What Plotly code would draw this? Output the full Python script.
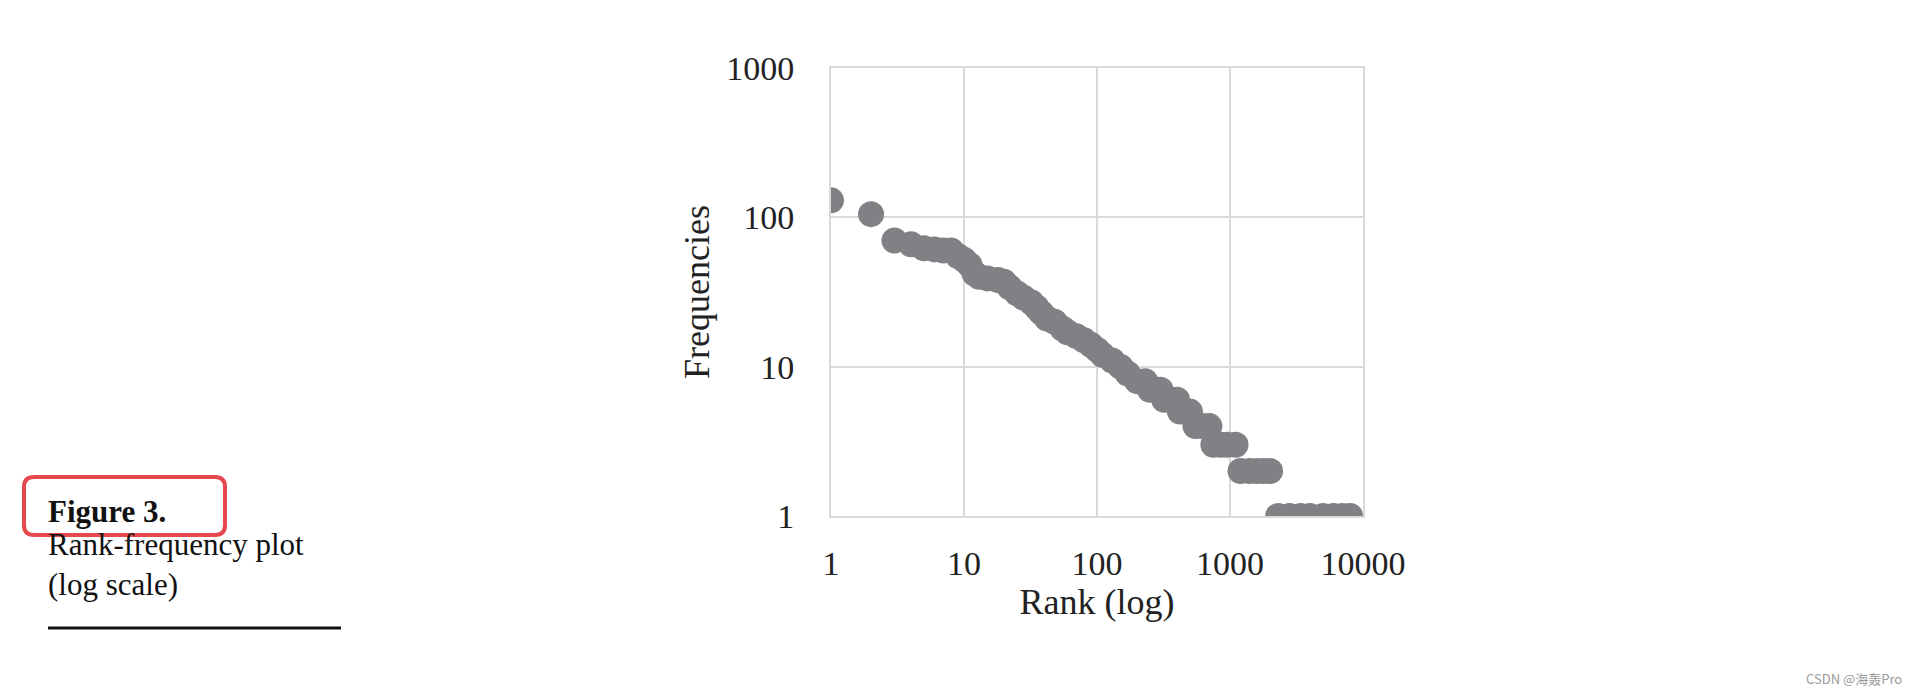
import plotly.graph_objects as go

# rank / frequency pairs
ranks = [1, 2, 3, 4, 5, 6, 7, 8, 9, 10, 11, 12, 13, 15, 18, 20, 22, 25, 28, 32,
         35, 38, 42, 48, 55, 60, 70, 80, 90, 100, 110, 130, 150, 170, 200, 230,
         250, 280, 300, 320, 360, 400, 420, 460, 500, 550, 620, 700, 750, 850, 950, 1100,
         1200, 1400, 1600, 1800, 2000, 2300, 2800, 3400, 4000, 5000, 6000, 7000, 8000]
freqs = [130, 105, 70, 66, 62, 61, 60, 60, 55, 52, 48, 42, 40, 39, 38, 37, 34, 31, 29, 27,
         25, 23, 21, 20, 18, 17, 16, 15, 14, 13, 12, 11, 10, 9, 8, 8,
         7, 7, 7, 6, 6, 6, 5, 5, 5, 4, 4, 4, 3, 3, 3, 3,
         2, 2, 2, 2, 2, 1, 1, 1, 1, 1, 1, 1, 1]

x_ticks = [1, 10, 100, 1000, 10000]
y_ticks = [1, 10, 100, 1000]

SERIF = "Liberation Serif"
GRID = "#d9d9d9"

# plot area in pixels
L, R, T, B = 823, 555, 60, 178
W, H = 1910 - L - R, 686 - T - B
BOT = 686 - B


def px(x):
    return (x - L) / W


def py(y):
    return (BOT - y) / H


fig = go.Figure()
fig.add_trace(go.Scatter(x=ranks, y=freqs, mode="markers",
                         marker=dict(color="#808184", size=26, line=dict(width=0)),
                         showlegend=False))

fig.update_xaxes(type="log", range=[0, 4], tickvals=x_ticks, ticktext=[str(v) for v in x_ticks],
                 showgrid=True, gridcolor=GRID, gridwidth=2, showline=True, linecolor=GRID,
                 linewidth=2, mirror=True, zeroline=False, ticks="", ticklabelstandoff=16,
                 tickfont=dict(family=SERIF, size=34, color="#222"),
                 title=dict(text="Rank (log)", font=dict(family=SERIF, size=36, color="#222"),
                            standoff=0))
fig.update_yaxes(type="log", range=[0, 3], tickvals=y_ticks, ticktext=[str(v) for v in y_ticks],
                 showgrid=True, gridcolor=GRID, gridwidth=2, showline=True, linecolor=GRID,
                 linewidth=2, mirror=True, zeroline=False, ticks="", ticklabelstandoff=28,
                 tickfont=dict(family=SERIF, size=34, color="#222"),
                 title=dict(text="Frequencies", font=dict(family=SERIF, size=36, color="#222"),
                            standoff=6))

# caption on the left
fig.add_annotation(xref="paper", yref="paper", x=px(38), y=py(503), xanchor="left",
                   yanchor="middle", showarrow=False, text="<b>Figure 3.</b>",
                   font=dict(family=SERIF, size=31, color="#111"))
fig.add_annotation(xref="paper", yref="paper", x=px(38), y=py(556), xanchor="left",
                   yanchor="middle", showarrow=False, align="left",
                   text="Rank-frequency plot<br>(log scale)",
                   font=dict(family=SERIF, size=31, color="#111"))
fig.add_shape(type="line", xref="paper", yref="paper", x0=px(40), x1=px(333),
              y0=py(620), y1=py(620), line=dict(color="#111", width=3))
# rounded highlight box
x0, x1, y0, y1, r = px(16), px(217), py(527), py(469), 10
rx, ry = r / W, r / H
fig.add_shape(type="path", xref="paper", yref="paper",
              path=(f"M {x0+rx},{y1} L {x1-rx},{y1} Q {x1},{y1} {x1},{y1-ry} "
                    f"L {x1},{y0+ry} Q {x1},{y0} {x1-rx},{y0} L {x0+rx},{y0} "
                    f"Q {x0},{y0} {x0},{y0+ry} L {x0},{y1-ry} Q {x0},{y1} {x0+rx},{y1} Z"),
              line=dict(color="#e5484d", width=4))
fig.add_annotation(xref="paper", yref="paper", x=px(1896), y=py(670),
                   xanchor="right", yanchor="middle", showarrow=False, text="CSDN @海轰Pro",
                   font=dict(family="Noto Sans CJK SC", size=13, color="#999"))

fig.update_layout(width=1910, height=686, paper_bgcolor="white", plot_bgcolor="white",
                  margin=dict(l=L, r=R, t=T, b=B))

fig.write_html("out.html")
